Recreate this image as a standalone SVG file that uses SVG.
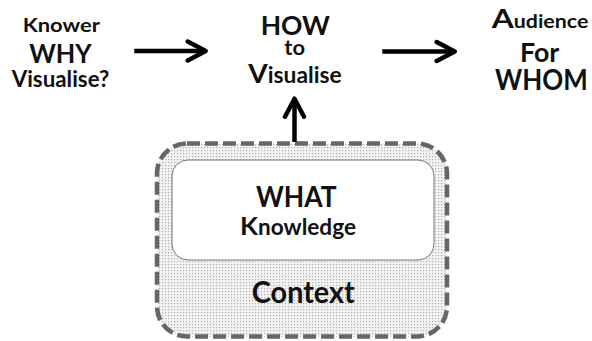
<svg xmlns="http://www.w3.org/2000/svg" width="592" height="341" viewBox="0 0 592 341">
<defs>
<style>
text{font-family:Lato,"Open Sans","Liberation Sans",sans-serif;font-weight:bold;fill:#111;text-anchor:middle}
.conn{stroke:#000;stroke-width:4.5;fill:none;stroke-linecap:butt}
</style>
<pattern id="dots" width="3" height="3" patternUnits="userSpaceOnUse">
<rect width="3" height="3" fill="#f3f3f3"/>
<rect width="1.2" height="1.2" fill="#b0b0b0"/>
</pattern>
<marker id="ah" viewBox="0 0 26 26" refX="20.3" refY="13" markerWidth="26" markerHeight="26" markerUnits="userSpaceOnUse" orient="auto">
<path d="M4,3.5 L22,13 L4,22.5" fill="none" stroke="#000" stroke-width="4.5" stroke-linecap="round" stroke-linejoin="round"/>
</marker>
</defs>
<rect width="592" height="341" fill="#fff"/>
<g id="context">
<rect x="157" y="143.5" width="290" height="193" rx="30" fill="url(#dots)" stroke="#666" stroke-width="4.5" stroke-dasharray="13 5"/>
<text x="303.3" y="303.3" font-size="30" textLength="103" lengthAdjust="spacingAndGlyphs">Context</text>
</g>
<g id="what">
<rect x="172" y="160" width="262" height="100" rx="16" fill="#fff" stroke="#777" stroke-width="1"/>
<text x="296.3" y="206.7" font-size="28.5" textLength="80.7" lengthAdjust="spacingAndGlyphs">WHAT</text>
<text x="298" y="235" font-size="22" textLength="116" lengthAdjust="spacingAndGlyphs"><tspan font-size="25.5">K</tspan>nowledge</text>
</g>
<g id="why">
<text x="61.3" y="32.3" font-size="18.2" textLength="77.3" lengthAdjust="spacingAndGlyphs">Knower</text>
<text x="60.5" y="62.7" font-size="27.5" textLength="62.4" lengthAdjust="spacingAndGlyphs">WHY</text>
<text x="60.5" y="87.3" font-size="22" textLength="97.6" lengthAdjust="spacingAndGlyphs">Visualise?</text>
</g>
<g id="how">
<text x="295.3" y="35" font-size="27.5" textLength="69.3" lengthAdjust="spacingAndGlyphs">HOW</text>
<text x="294.7" y="55" font-size="20" textLength="20.7" lengthAdjust="spacingAndGlyphs">to</text>
<text x="295" y="82.7" font-size="22" textLength="93.4" lengthAdjust="spacingAndGlyphs"><tspan font-size="27">V</tspan>isualise</text>
</g>
<g id="whom">
<text x="540" y="28.3" font-size="18.5" textLength="96.6" lengthAdjust="spacingAndGlyphs"><tspan font-size="27.5">A</tspan>udience</text>
<text x="539.7" y="61.7" font-size="27.5" textLength="39.3" lengthAdjust="spacingAndGlyphs">For</text>
<text x="541.3" y="90" font-size="28.5" textLength="92.7" lengthAdjust="spacingAndGlyphs">WHOM</text>
</g>
<g id="connectors">
<line class="conn" x1="134.3" y1="51" x2="204" y2="51" marker-end="url(#ah)"/>
<line class="conn" x1="382.3" y1="51.5" x2="453" y2="51.5" marker-end="url(#ah)"/>
<line class="conn" x1="294.5" y1="142" x2="294.5" y2="100.4" marker-end="url(#ah)"/>
</g>
</svg>
